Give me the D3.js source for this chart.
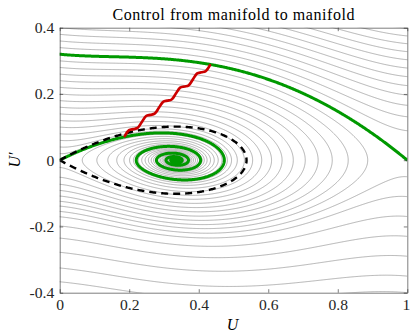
<!DOCTYPE html>
<html>
<head>
<meta charset="utf-8">
<script src="https://cdn.jsdelivr.net/npm/d3@7"></script>
<style>
  body { margin: 0; background: #fff; }
  svg { display: block; }
</style>
</head>
<body>
<svg id="chart" width="410" height="332"></svg>
<script>
// model: U'' + c U' + U (1 - U) (U - a) = 0
const modelA = 1 / 3;
const modelC = 0.1;

// U' where the grey streamlines cross U = 0 (upper half, run forward)
const leftSeeds = [0.02, 0.04, 0.06, 0.08, 0.10, 0.12, 0.14, 0.16, 0.18, 0.20,
  0.22, 0.24, 0.26, 0.28, 0.30, 0.32, 0.34, 0.36, 0.38, 0.40,
  0.42, 0.44, 0.46, 0.48, 0.50, 0.52, 0.54, 0.56, 0.58];
// U' where the grey streamlines cross U = 1 (lower half, run forward)
const rightSeeds = [-0.05, -0.11, -0.17, -0.23, -0.29, -0.35, -0.40];

// red controlled trajectory (U, U')
const controlPath = [
  [0.1873, 0.0725], [0.1996, 0.0905], [0.2118, 0.0939], [0.2241, 0.0974],
  [0.2363, 0.1154], [0.2486, 0.1334], [0.2608, 0.1368], [0.2731, 0.1403],
  [0.2853, 0.1582], [0.2976, 0.1763], [0.3098, 0.1797], [0.3220, 0.1832],
  [0.3343, 0.2011], [0.3465, 0.2191], [0.3588, 0.2225], [0.3710, 0.2260],
  [0.3833, 0.2440], [0.3955, 0.2620], [0.4078, 0.2654], [0.4200, 0.2689],
  [0.4323, 0.2868]
];

const xTicks = [0, 0.2, 0.4, 0.6, 0.8, 1];
const yTicks = [-0.4, -0.2, 0, 0.2, 0.4];
const titleText = 'Control from manifold to manifold';

const config = {
  margin: { left: 59.7, right: 2.7, top: 27.7, bottom: 39.3 },
  width: 410,
  height: 332,
  tickLen: 3.5,
  font: 'Liberation Serif, DejaVu Serif, serif',
  fontSize: 15.6,
  grey: '#858585',
  green: '#009900',
  red: '#cc0000'
};

const svg = d3.select('#chart');
const plotW = config.width - config.margin.left - config.margin.right;
const plotH = config.height - config.margin.top - config.margin.bottom;

const x = d3.scaleLinear().domain([0, 1]).range([0, plotW]);
const y = d3.scaleLinear().domain([-0.4, 0.4]).range([plotH, 0]);
const kx = plotW, ky = plotH / 0.8; // px per unit

const g = svg.append('g')
  .attr('transform', `translate(${config.margin.left},${config.margin.top})`);

svg.append('defs').append('clipPath').attr('id', 'plotClip')
  .append('rect').attr('width', plotW).attr('height', plotH);

/**
 * vector field
 */
function field(u, v, c) {
  return [v, -c * v - u * (1 - u) * (u - modelA)];
}

/**
 * RK4 with a step of under a pixel
 */
function integrate(u, v, dir, c, stop, maxSteps) {
  const pts = [[u, v]];
  for (let i = 0; i < maxSteps; i++) {
    const k1 = field(u, v, c);
    const sp = Math.hypot(k1[0] * kx, k1[1] * ky);
    if (sp < 1e-12) break;
    const h = dir * Math.min(0.8 / sp, 0.6);
    const k2 = field(u + h / 2 * k1[0], v + h / 2 * k1[1], c);
    const k3 = field(u + h / 2 * k2[0], v + h / 2 * k2[1], c);
    const k4 = field(u + h * k3[0], v + h * k3[1], c);
    u += h / 6 * (k1[0] + 2 * k2[0] + 2 * k3[0] + k4[0]);
    v += h / 6 * (k1[1] + 2 * k2[1] + 2 * k3[1] + k4[1]);
    pts.push([u, v]);
    if (stop(u, v, i)) break;
  }
  return pts;
}

const nearFocus = (u, v) => Math.hypot((u - modelA) * kx, v * ky) < 0.7;
const outside = (u, v) => u < -0.03 || u > 1.03 || v < -0.45 || v > 0.65;
const greyStop = (u, v) => outside(u, v) || nearFocus(u, v);

const line = d3.line().x(d => x(d[0])).y(d => y(d[1]));
const plot = g.append('g').attr('clip-path', 'url(#plotClip)');

// grey streamlines
const greyLines = [];
leftSeeds.forEach(v0 => greyLines.push(integrate(0, v0, 1, modelC, greyStop, 60000)));
rightSeeds.forEach(v0 => greyLines.push(integrate(1, v0, 1, modelC, greyStop, 60000)));

plot.selectAll('.stream')
  .data(greyLines)
  .enter()
  .append('path')
  .attr('class', 'stream')
  .attr('d', line)
  .attr('fill', 'none')
  .attr('stroke', config.grey)
  .attr('stroke-width', 0.6);

// stable manifold of (1, 0)
const lamS = (-modelC - Math.sqrt(modelC * modelC + 4 * (1 - modelA))) / 2;
const eps = 1e-5;
const stableM = [[1, 0]].concat(integrate(1 - eps, -eps * lamS, -1, modelC,
  (u, v) => u < -0.03 || v > 0.6, 60000));

// unstable manifold of (0, 0)
const lamU = (-modelC + Math.sqrt(modelC * modelC + 4 * modelA)) / 2;
const unstableM = [[0, 0]].concat(integrate(eps, eps * lamU, 1, modelC, nearFocus, 80000));

// homoclinic orbit of the undamped system: upper half, then mirrored
const homoTop = [[0, 0]].concat(integrate(eps, eps * Math.sqrt(modelA), 1, 0,
  (u, v) => v <= 0, 80000));
const homo = homoTop.concat(homoTop.slice().reverse().map(d => [d[0], -d[1]]));

[stableM, unstableM].forEach(d => {
  plot.append('path')
    .attr('d', line(d))
    .attr('fill', 'none')
    .attr('stroke', config.green)
    .attr('stroke-width', 3)
    .attr('stroke-linejoin', 'round');
});

plot.append('path')
  .attr('d', line(homo))
  .attr('fill', 'none')
  .attr('stroke', '#000')
  .attr('stroke-width', 2.4)
  .attr('stroke-dasharray', '7,5');

plot.append('path')
  .attr('d', d3.line().x(d => x(d[0])).y(d => y(d[1])).curve(d3.curveCatmullRom)(controlPath))
  .attr('fill', 'none')
  .attr('stroke', config.red)
  .attr('stroke-width', 2.7)
  .attr('stroke-linecap', 'round')
  .attr('stroke-linejoin', 'round');

// axes (MATLAB style box with inward ticks)
const fmt = d => String(+d.toFixed(1));
const styleAxis = sel => {
  sel.attr('font-family', config.font).attr('font-size', config.fontSize);
  sel.select('.domain').attr('stroke', '#262626').attr('stroke-width', 0.6);
  sel.selectAll('.tick line').attr('stroke', '#262626').attr('stroke-width', 0.6);
  sel.selectAll('.tick text').attr('fill', '#262626');
};

const xAxis = g.append('g').attr('transform', `translate(0,${plotH})`)
  .call(d3.axisBottom(x).tickValues(xTicks).tickFormat(fmt)
    .tickSizeInner(-config.tickLen).tickSizeOuter(0).tickPadding(6.5))
  .call(styleAxis);
xAxis.selectAll('.tick text').filter(d => d === 1).attr('dx', -1.5);
g.append('g')
  .call(d3.axisTop(x).tickValues(xTicks).tickFormat('')
    .tickSizeInner(-config.tickLen).tickSizeOuter(0))
  .call(styleAxis);
g.append('g')
  .call(d3.axisLeft(y).tickValues(yTicks).tickFormat(fmt)
    .tickSizeInner(-config.tickLen).tickSizeOuter(0).tickPadding(5.5))
  .call(styleAxis);
g.append('g').attr('transform', `translate(${plotW},0)`)
  .call(d3.axisRight(y).tickValues(yTicks).tickFormat('')
    .tickSizeInner(-config.tickLen).tickSizeOuter(0))
  .call(styleAxis);

// title and labels
svg.append('text')
  .attr('x', config.margin.left + plotW / 2)
  .attr('y', 20)
  .attr('text-anchor', 'middle')
  .attr('textLength', 242)
  .attr('lengthAdjust', 'spacing')
  .attr('font-family', config.font)
  .attr('font-size', 16)
  .attr('fill', '#000')
  .text(titleText);

svg.append('text')
  .attr('x', config.margin.left + plotW / 2 - 1)
  .attr('y', 330)
  .attr('text-anchor', 'middle')
  .attr('font-family', config.font)
  .attr('font-size', 16)
  .attr('font-style', 'italic')
  .text('U');

svg.append('text')
  .attr('transform', 'translate(20,160) rotate(-90)')
  .attr('text-anchor', 'middle')
  .attr('font-family', config.font)
  .attr('font-size', 16)
  .attr('font-style', 'italic')
  .text('U\u2032');
</script>
</body>
</html>
